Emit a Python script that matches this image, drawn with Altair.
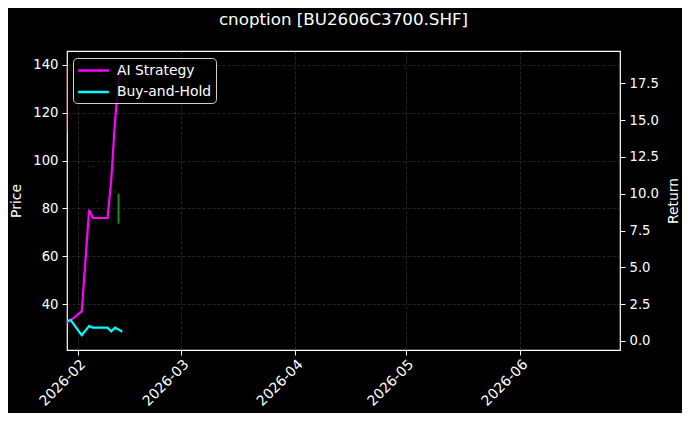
import altair as alt
import pandas as pd

# ---- data ----
dates = ["2026-01-29", "2026-01-30", "2026-02-02", "2026-02-03", "2026-02-04",
         "2026-02-05", "2026-02-06", "2026-02-09", "2026-02-10", "2026-02-11",
         "2026-02-12", "2026-02-13"]
ai_return = [1.25, 1.4, 2.0, 5.4, 8.9, 8.35, 8.35, 8.35, 10.9, 14.8, 17.7, 18.78]
bh_return = [1.35, 1.42, 0.38, 0.7, 1.0, 0.9, 0.9, 0.9, 0.64, 0.9, 0.78, 0.62]
series_names = ["AI Strategy", "Buy-and-Hold"]
series_colors = ["#ff00ff", "#00ffff"]

candle_dates = ["2026-01-29", "2026-02-04", "2026-02-05", "2026-02-06", "2026-02-11", "2026-02-12"]
candle_low = [112.0, 97.0, 97.0, 82.5, 86.5, 73.6]
candle_high = [140.0, 98.0, 98.0, 83.5, 87.5, 86.1]
candle_dir = ["down", "down", "down", "down", "down", "up"]

month_ticks = ["2026-02-01", "2026-03-01", "2026-04-01", "2026-05-01", "2026-06-01"]
price_ticks = [40, 60, 80, 100, 120, 140]
return_ticks = [0, 2.5, 5, 7.5, 10, 12.5, 15, 17.5]
price_domain = [20.8, 145.8]
return_domain = [-0.62, 19.7]

title_text = "cnoption [BU2606C3700.SHF]"

# ---- tables ----
n = len(dates)
ret_df = pd.DataFrame({
    "date": dates + dates,
    "ret": ai_return + bh_return,
    "series": [series_names[0]] * n + [series_names[1]] * n,
})
candle_df = pd.DataFrame({
    "date": candle_dates, "low": candle_low, "high": candle_high, "dir": candle_dir,
})

def utc(s, hours=0):
    y, m, d = [int(v) for v in s.split("-")]
    return alt.DateTime(year=y, month=m, date=d, hours=hours, utc=True)

x_scale = alt.Scale(type="utc", domain=[utc("2026-01-29"), utc("2026-06-28", 2)])
x_axis = alt.Axis(
    values=[utc(s) for s in month_ticks], format="%Y-%m", title=None,
    labelAngle=315, labelAlign="right", labelBaseline="top", labelPadding=2,
    labelFontSize=14, grid=True, tickSize=5,
)

FONT = "DejaVu Sans"

candles = alt.Chart(candle_df).mark_rule(strokeWidth=2).encode(
    x=alt.X("date:T", scale=x_scale, axis=x_axis),
    y=alt.Y("low:Q", scale=alt.Scale(domain=price_domain, nice=False, zero=False),
            axis=alt.Axis(orient="left", values=price_ticks, title="Price",
                          titlePadding=9, tickSize=5, labelPadding=4)),
    y2="high:Q",
    color=alt.Color("dir:N", scale=alt.Scale(domain=["up", "down"], range=["#2aa02a", "#d62728"]),
                    legend=None),
    opacity=alt.Opacity("dir:N", scale=alt.Scale(domain=["up", "down"], range=[0.85, 0.25]),
                        legend=None),
)

lines = alt.Chart(ret_df).mark_line(strokeWidth=2.2).encode(
    x=alt.X("date:T", scale=x_scale, axis=x_axis),
    y=alt.Y("ret:Q", scale=alt.Scale(domain=return_domain, nice=False, zero=False),
            axis=alt.Axis(orient="right", values=return_ticks, format=".1f", title="Return",
                          titleAngle=270, titleBaseline="top", titlePadding=8,
                          tickSize=5, labelPadding=4)),
    color=alt.Color(
        "series:N",
        scale=alt.Scale(domain=series_names, range=series_colors),
        legend=alt.Legend(
            title=None, orient="none", legendX=6, legendY=7,
            fillColor="rgba(0,0,0,0.8)", strokeColor="#d0d0d0", cornerRadius=4, padding=4,
            labelColor="white", labelFontSize=13.9, labelFont=FONT,
            symbolType="M-2.2,0H2.2", symbolSize=196, symbolStrokeWidth=2.5,
            symbolOffset=8, labelOffset=15, rowPadding=5.5,
        ),
    ),
    order=alt.Order("date:T"),
)

chart = (
    alt.layer(candles, lines)
    .resolve_scale(y="independent", color="independent", opacity="independent")
    .properties(
        width=553, height=299,
        title=alt.TitleParams(title_text, color="white", fontSize=16.7, font=FONT,
                              fontWeight="normal", anchor="middle", offset=22),
        background="black",
        autosize=alt.AutoSizeParams(type="none"),
        padding={"left": 59, "top": 43, "right": 62, "bottom": 63},
    )
    .configure_view(stroke="white", strokeWidth=1.2, fill="black")
    .configure_axis(
        domain=False, tickColor="white", labelColor="white", titleColor="white",
        labelFont=FONT, titleFont=FONT, labelFontSize=13.2, titleFontSize=13.9,
        titleFontWeight="normal", gridColor="#8a8a8a", gridDash=[3, 2], gridOpacity=0.4,
        gridWidth=0.7, tickWidth=1,
    )
)

chart.save("out.html", embed_options={"renderer": "svg", "actions": False})
